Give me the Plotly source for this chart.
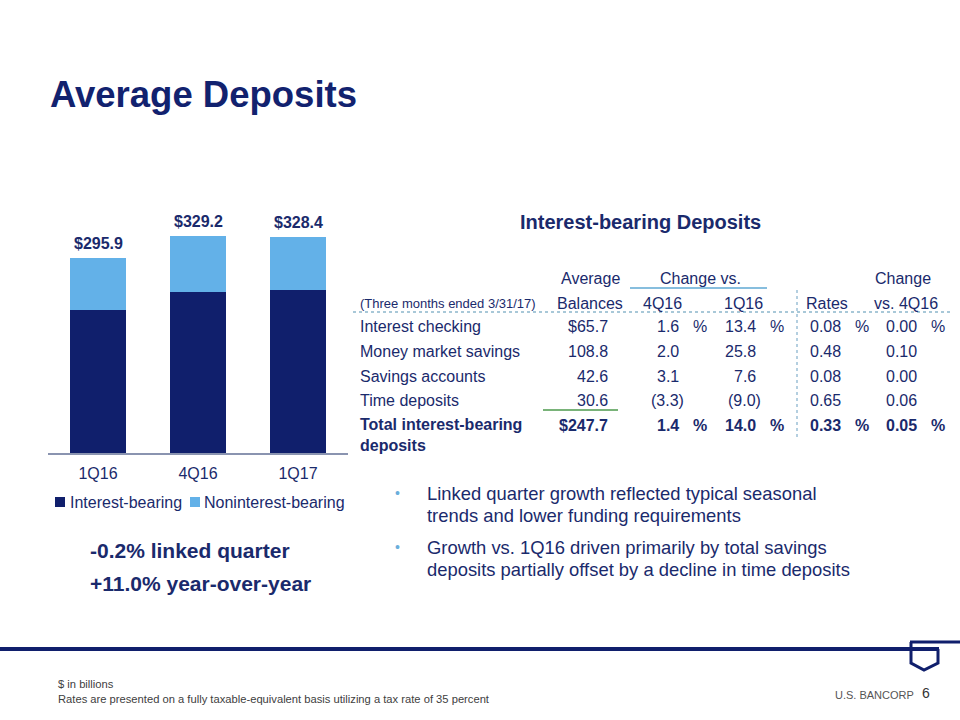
import plotly.graph_objects as go

W, H = 960, 720

# ---------------- data ----------------
quarters = ["1Q16", "4Q16", "1Q17"]
interest_bearing = [217.3, 244.3, 247.7]
noninterest_bearing = [78.6, 84.9, 80.7]
total_labels = ["$295.9", "$329.2", "$328.4"]
series_names = ["Interest-bearing", "Noninterest-bearing"]

row_labels = ["Interest checking", "Money market savings", "Savings accounts",
              "Time deposits", "Total interest-bearing<br>deposits"]
avg_balances = ["$65.7", "108.8", "42.6", "30.6", "$247.7"]
chg_vs_4q16 = ["1.6", "2.0", "3.1", "(3.3)", "1.4"]
chg_vs_1q16 = ["13.4", "25.8", "7.6", "(9.0)", "14.0"]
rates = ["0.08", "0.48", "0.08", "0.65", "0.33"]
rate_chg_vs_4q16 = ["0.00", "0.10", "0.00", "0.06", "0.05"]
pct_rows = [True, False, False, False, True]

bullets = [["Linked quarter growth reflected typical seasonal",
            "trends and lower funding requirements"],
           ["Growth vs. 1Q16 driven primarily by total savings",
            "deposits partially offset by a decline in time deposits"]]
kpis = ["-0.2% linked quarter", "+11.0% year-over-year"]
footnotes = ["$ in billions",
             "Rates are presented on a fully taxable-equivalent basis utilizing a tax rate of 35 percent"]

# ---------------- style ----------------
NAVY = "#101f6c"
TXT = "#1a2a6c"
LIGHT = "#63b1e8"
FONT = "Arial, Liberation Sans, sans-serif"
colors = [NAVY, LIGHT]


def px(x):
    return x / W


def py(y):
    return 1 - y / H


fig = go.Figure()
fig.add_trace(go.Bar(x=quarters, y=interest_bearing, name=series_names[0],
                     marker=dict(color=colors[0], line=dict(width=0))))
fig.add_trace(go.Bar(x=quarters, y=noninterest_bearing, name=series_names[1],
                     marker=dict(color=colors[1], line=dict(width=0))))

ann = []
# total labels on bars
for q, a, b, lbl in zip(quarters, interest_bearing, noninterest_bearing, total_labels):
    ann.append(dict(x=q, y=a + b, xref="x", yref="y", text=f"<b>{lbl}</b>",
                    showarrow=False, yanchor="bottom", yshift=4,
                    font=dict(size=16, color=TXT, family=FONT)))


def text(x, y, s, size=16, color=TXT, xanchor="left", yanchor="middle", bold=False):
    ann.append(dict(x=px(x), y=py(y), xref="paper", yref="paper",
                    text=f"<b>{s}</b>" if bold else s, showarrow=False,
                    xanchor=xanchor, yanchor=yanchor, align=xanchor if xanchor != "center" else "center",
                    font=dict(size=size, color=color, family=FONT)))


# title
text(48, 95, "Average Deposits", size=36.5, color="#12226f", bold=True)
text(640, 222, "Interest-bearing Deposits", size=20, xanchor="center", bold=True)

# table headers
text(590, 278, "Average", xanchor="center")
text(590, 303, "Balances", xanchor="center")
text(700, 278, "Change vs.", xanchor="center")
text(662, 303, "4Q16", xanchor="center")
text(743, 303, "1Q16", xanchor="center")
text(827, 303, "Rates", xanchor="center")
text(903, 278, "Change", xanchor="center")
text(906, 303, "vs. 4Q16", xanchor="center")
text(358, 303, "(Three months ended 3/31/17)", size=13)

row_y = [327, 351, 376, 400, 425]
cols = [(avg_balances, 610, None), (chg_vs_4q16, 681, 700), (chg_vs_1q16, 758, 777),
        (rates, 843, 862), (rate_chg_vs_4q16, 919, 938)]
for i, y in enumerate(row_y):
    bold = i == len(row_y) - 1
    lbl = row_labels[i]
    if "<br>" in lbl:
        text(358, y - 11, lbl, yanchor="top", bold=bold)
    else:
        text(358, y, lbl, bold=bold)
    for vals, right, pct_x in cols:
        v = vals[i]
        r = right + (5 if v.startswith("(") else 0)
        text(r, y, v, xanchor="right", bold=bold)
        if pct_x is not None and pct_rows[i]:
            text(pct_x, y, "%", xanchor="center", bold=bold)

# bullets
for lines, y0 in zip(bullets, [493, 547]):
    text(397, y0, "•", size=14, color="#6aaedb", xanchor="center")
    for j, ln in enumerate(lines):
        text(425, y0 + 22 * j, ln, size=18.4)

# KPIs
for k, y in zip(kpis, [550, 583]):
    text(88, y, k, size=21, bold=True)

# footnotes
for f, y in zip(footnotes, [684, 699]):
    text(56, y, f, size=11.2, color="#404040")

text(874, 695, "U.S. BANCORP", size=11, color="#555555", xanchor="center")
text(926, 693, "6", size=14, color="#333333", xanchor="center")

# shapes
shapes = []


def line(x0, y0, x1, y1, color, width=1.5, dash="solid"):
    shapes.append(dict(type="line", xref="paper", yref="paper",
                       x0=px(x0), y0=py(y0), x1=px(x1), y1=py(y1),
                       line=dict(color=color, width=width, dash=dash)))


# legend (drawn manually to match the slide's compact layout)
for name, col, lx, tx in zip(series_names, colors, [55, 190], [68, 202]):
    shapes.append(dict(type="rect", xref="paper", yref="paper",
                       x0=px(lx), x1=px(lx + 10), y0=py(507), y1=py(497),
                       fillcolor=col, line=dict(width=0)))
    text(tx, 502, name, size=16)

line(630, 288, 767, 288, "#5fa8d3", 1.5)
line(353, 312, 950, 312, "#a8c8d8", 2, "dot")
line(797, 290, 797, 437, "#9cc0d6", 1.5, "dot")
line(543, 410, 618, 410, "#4c9a4c", 1.5)

# footer rule and logo
line(0, 649, 939, 649, NAVY, 4)
line(910, 642, 960, 642, NAVY, 3)
pts = [(911, 642), (911, 663), (924, 670), (938, 663), (938, 649)]
path = "M " + " L ".join(f"{px(x):.5f},{py(y):.5f}" for x, y in pts)
shapes.append(dict(type="path", xref="paper", yref="paper", path=path,
                   line=dict(color=NAVY, width=3)))

fig.update_layout(
    width=W, height=H, autosize=False,
    margin=dict(l=0, r=0, t=0, b=0),
    paper_bgcolor="white", plot_bgcolor="white",
    barmode="stack", bargap=0.44,
    font=dict(family=FONT, color=TXT),
    xaxis=dict(domain=[px(48), px(348)], range=[-0.5, 2.5], showgrid=False,
               showline=True, linecolor="#8a94b0", linewidth=1.5,
               ticks="", ticklabelstandoff=5,
               tickfont=dict(size=16, color=TXT, family=FONT), fixedrange=True),
    yaxis=dict(domain=[py(453), py(229)], range=[0, 340], visible=False,
               showgrid=False, zeroline=False),
    showlegend=False,
    annotations=ann,
    shapes=shapes,
)

fig.write_html("out.html", config={"displayModeBar": False},
               post_script="document.body.style.margin='0px';")
